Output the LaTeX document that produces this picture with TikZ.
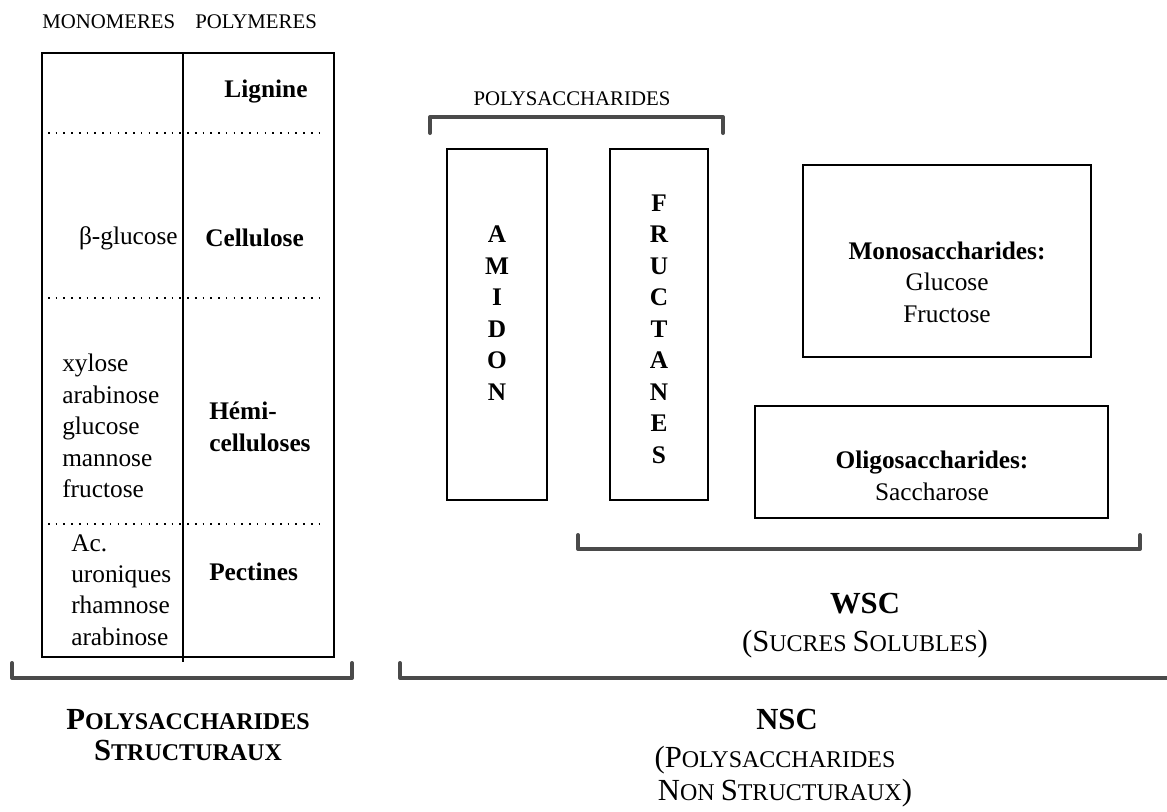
\documentclass[tikz,border=0pt]{standalone}
\usepackage{fontspec}
\setmainfont{Liberation Serif}
\definecolor{brkgray}{HTML}{4A4A4A}
\newcommand\myBig[1]{{\fontsize{23}{27}\selectfont #1}}
\begin{document}
\begin{tikzpicture}[x=0.75pt,y=-0.75pt,
  tbl/.style={line width=1.4pt},
  divl/.style={line width=1.1pt},
  dots/.style={line width=1.1pt, dash pattern=on 1.2pt off 4.6pt},
  brk/.style={line width=3pt, draw=brkgray, line join=round, line cap=round},
  boxr/.style={draw, line width=1.5pt},
  txt/.style={font=\fontsize{19}{23.6}\selectfont, inner sep=0pt},
  btxt/.style={font=\bfseries\fontsize{19}{23.6}\selectfont, inner sep=0pt},
  smalltxt/.style={font=\fontsize{15.6}{18}\selectfont, inner sep=0pt},
  lab/.style={font=\fontsize{18}{27}\selectfont, inner sep=0pt, anchor=base},
  blab/.style={font=\bfseries\fontsize{18}{27}\selectfont, inner sep=0pt, anchor=base}]
\useasboundingbox (0,0) rectangle (1167,811);

% ---- left table ----
\draw[tbl] (42,53) rectangle (334,657);
\coordinate (divtop) at (183,53);
\coordinate (divbot) at (183,662);
\draw[divl] (divtop) -- (divbot);
\draw[dots] (48,133) -- (320,133);
\draw[dots] (48,298) -- (320,298);
\draw[dots] (48,524) -- (320,524);

\node[smalltxt, anchor=base west] (mono) at (42,28) {MONOMERES};
\node[smalltxt, anchor=base west] (poly) at (195,28) {POLYMERES};

\node[btxt] (lig) at (266,92) {Lignine};
\node[txt, anchor=east] (bglu) at (178,238) {β-glucose};
\node[btxt, anchor=west] (cell) at (205,238) {Cellulose};
\node[txt, anchor=west, align=left] (hemimono) at (62,426) {xylose\\arabinose\\glucose\\mannose\\fructose};
\node[btxt, anchor=west, align=left] (hemi) at (209,427) {Hémi-\\celluloses};
\node[txt, anchor=west, align=left] (pecmono) at (71,590) {Ac.\\uroniques\\rhamnose\\arabinose};
\node[btxt, anchor=west] (pec) at (209,572) {Pectines};

% ---- polysaccharides bracket and boxes ----
\node[smalltxt, anchor=base] (polysac) at (572,105) {POLYSACCHARIDES};
\draw[brk] (430,133) -- (430,117) -- (723,117) -- (723,133);

\draw[boxr] (447,149) rectangle (547,500);
\node[btxt, align=center] (amid) at (497,313) {A\\M\\I\\D\\O\\N};
\draw[boxr] (610,149) rectangle (708,500);
\node[btxt, align=center] (fruc) at (659,329) {F\\R\\U\\C\\T\\A\\N\\E\\S};

\draw[boxr] (803,165) rectangle (1091,357);
\node[txt, align=center] (monos) at (947,282) {\textbf{Monosaccharides:}\\Glucose\\Fructose};
\draw[boxr] (755,406) rectangle (1108,518);
\node[txt, align=center] (oligo) at (932,476) {\textbf{Oligosaccharides:}\\Saccharose};

% ---- WSC bracket ----
\draw[brk] (578,535) -- (578,549) -- (1140,549) -- (1140,535);
\node[blab] (wsc) at (865,613) {\myBig{WSC}};
\node[lab] (wscsub) at (865,651) {\myBig{(S}UCRES \myBig{S}OLUBLES\myBig{)}};

% ---- bottom brackets ----
\draw[brk] (12,663) -- (12,678) -- (352,678) -- (352,663);
\draw[brk] (400,663) -- (400,678) -- (1170,678);

\node[blab] (ps1) at (188,729) {\myBig{P}OLYSACCHARIDES};
\node[blab] (ps2) at (188,760) {\myBig{S}TRUCTURAUX};
\node[blab] (nsc) at (787,729) {\myBig{NSC}};
\node[lab] (nsc1) at (775,767) {\myBig{(P}OLYSACCHARIDES};
\node[lab] (nsc2) at (785,800) {\myBig{N}ON \myBig{S}TRUCTURAUX\myBig{)}};
\end{tikzpicture}
\end{document}
